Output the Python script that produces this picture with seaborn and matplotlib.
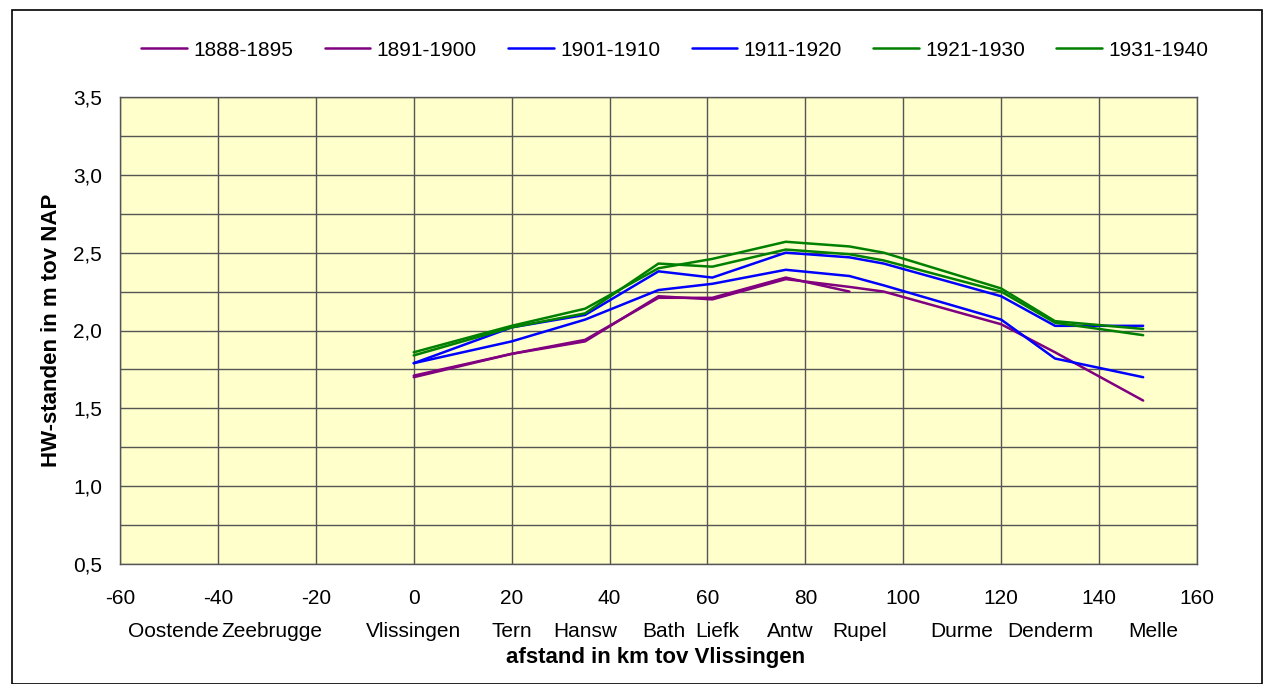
import numpy as np
import pandas as pd
import seaborn as sns
import matplotlib.pyplot as plt
from matplotlib.patches import Rectangle
from matplotlib.ticker import MultipleLocator

# data
km = [0, 20, 35, 50, 61, 76, 89, 96, 120, 131, 149]
periods = ["1888-1895", "1891-1900", "1901-1910", "1911-1920", "1921-1930", "1931-1940"]
hw_1888 = [1.71, 1.85, 1.94, 2.21, 2.21, 2.34, 2.25, np.nan, np.nan, np.nan, np.nan]
hw_1891 = [1.70, 1.85, 1.93, 2.22, 2.20, 2.33, 2.28, 2.25, 2.04, 1.86, 1.55]
hw_1901 = [1.79, 1.93, 2.07, 2.26, 2.30, 2.39, 2.35, 2.29, 2.07, 1.82, 1.70]
hw_1911 = [1.79, 2.02, 2.10, 2.38, 2.34, 2.50, 2.47, 2.43, 2.22, 2.03, 2.03]
hw_1921 = [1.84, 2.02, 2.11, 2.43, 2.41, 2.52, 2.49, 2.45, 2.25, 2.05, 1.97]
hw_1931 = [1.86, 2.03, 2.14, 2.40, 2.46, 2.57, 2.54, 2.50, 2.27, 2.06, 2.01]
colors = ["#800080", "#800080", "#0000FF", "#0000FF", "#008000", "#008000"]

stations = ["Oostende", "Zeebrugge", "Vlissingen", "Tern", "Hansw", "Bath", "Liefk",
            "Antw", "Rupel", "Durme", "Denderm", "Melle"]
station_km = [-49, -29, 0, 20, 35, 51, 62, 77, 91, 112, 130, 151]

x_ticks = list(range(-60, 161, 20))
y_ticks = [0.5, 1.0, 1.5, 2.0, 2.5, 3.0, 3.5]
y_labels = ["0,5", "1,0", "1,5", "2,0", "2,5", "3,0", "3,5"]

series = [hw_1888, hw_1891, hw_1901, hw_1911, hw_1921, hw_1931]
df = pd.concat([pd.DataFrame({"km": km, "hw": s, "periode": p}) for p, s in zip(periods, series)])
df = df.dropna()

sns.set_style("white")
plt.rcParams['font.family'] = ['Liberation Sans', 'DejaVu Sans']
plt.rcParams['text.color'] = 'black'
plt.rcParams['xtick.color'] = 'black'
plt.rcParams['ytick.color'] = 'black'
plt.rcParams['axes.labelcolor'] = 'black'

fig = plt.figure(figsize=(12.72, 6.84), dpi=100)
ax = fig.add_axes([120 / 1272, 1 - 564 / 684, 1077 / 1272, 467 / 684])
ax.set_facecolor("#FFFFCC")

sns.lineplot(data=df, x="km", y="hw", hue="periode", hue_order=periods,
             palette=colors, estimator=None, sort=False, linewidth=1.8, ax=ax)

ax.set_xlim(-60, 160)
ax.set_ylim(0.5, 3.5)
ax.set_xticks(x_ticks)
ax.set_xticklabels([str(t) for t in x_ticks], fontsize=15)
ax.set_yticks(y_ticks)
ax.set_yticklabels(y_labels, fontsize=15)
ax.yaxis.set_minor_locator(MultipleLocator(0.25))
ax.tick_params(axis="both", which="both", length=0)
ax.tick_params(axis="y", pad=13)
ax.tick_params(axis="x", pad=18)
ax.grid(True, which="major", color="#555555", linewidth=1.0)
ax.grid(True, which="minor", axis="y", color="#555555", linewidth=1.0)
ax.set_axisbelow(True)
for sp in ax.spines.values():
    sp.set_color("#555555")
    sp.set_linewidth(1.0)

ax.set_xlabel("")
ax.set_ylabel("HW-standen in m tov NAP", fontsize=16, fontweight="bold", labelpad=8)

# station names below the km ticks
trans = ax.get_xaxis_transform()
for name, pos in zip(stations, station_km):
    ax.text(pos, -0.145, name, transform=trans, ha="center", va="center", fontsize=15)
fig.text((120 + 1197) / 2 / 1272 - 0.002, 1 - 658 / 684, "afstand in km tov Vlissingen",
         ha="center", va="center", fontsize=16, fontweight="bold")

handles, labels = ax.get_legend_handles_labels()
ax.get_legend().remove()
fig.legend(handles, labels, loc="center", bbox_to_anchor=(675 / 1272, 1 - 50 / 684), ncol=6,
           frameon=False, fontsize=15, handlelength=2.2, handletextpad=0.3, columnspacing=1.5)

fig.patches.append(Rectangle((12 / 1272, 0), 1250 / 1272, 1 - 10 / 684, transform=fig.transFigure,
                             fill=False, edgecolor="black", linewidth=1.2))

fig.savefig("out.png", dpi=100, facecolor="white")
